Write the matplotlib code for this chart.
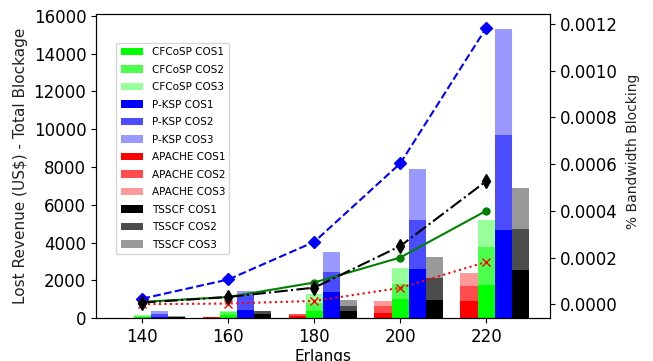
import matplotlib
matplotlib.use("Agg")
import matplotlib.pyplot as plt
import numpy as np

erlangs = np.array([140, 160, 180, 200, 220])

# lost revenue per class of service (US$)
cfcosp_cos1 = [50, 150, 390, 1020, 1745]
cfcosp_cos2 = [50, 170, 400, 790, 2010]
cfcosp_cos3 = [40, 70, 460, 830, 1460]
pksp_cos1 = [80, 440, 1390, 2590, 4670]
pksp_cos2 = [140, 790, 1060, 2610, 5020]
pksp_cos3 = [170, 180, 1070, 2690, 5640]
apache_cos1 = [0, 30, 120, 265, 916]
apache_cos2 = [0, 10, 110, 350, 790]
apache_cos3 = [0, 0, 0, 300, 700]
tsscf_cos1 = [40, 210, 350, 950, 2540]
tsscf_cos2 = [30, 180, 265, 1160, 2170]
tsscf_cos3 = [20, 0, 335, 1130, 2160]

# bandwidth blocking ratio
bb_cfcosp = [0.000010, 0.000031, 0.000093, 0.000200, 0.000400]
bb_pksp = [0.000024, 0.000106, 0.000267, 0.000603, 0.001183]
bb_apache = [0.0, 0.000003, 0.000014, 0.000070, 0.000181]
bb_tsscf = [0.000007, 0.000031, 0.000071, 0.000249, 0.000527]

w = 4

fig, ax = plt.subplots(figsize=(6.53, 3.61), dpi=100)
fig.subplots_adjust(left=0.147, right=0.842, bottom=0.119, top=0.961)

def stack(x, vals, color, name):
    bottom = np.zeros(len(x))
    for v, a, cos in zip(vals, [1.0, 0.7, 0.4], ["COS1", "COS2", "COS3"]):
        ax.bar(x, v, w, bottom=bottom, color=color, alpha=a, label=name + " " + cos)
        bottom = bottom + np.array(v)

stack(erlangs, [cfcosp_cos1, cfcosp_cos2, cfcosp_cos3], "#00ff00", "CFCoSP")
stack(erlangs + w, [pksp_cos1, pksp_cos2, pksp_cos3], "#0000ff", "P-KSP")
stack(erlangs - w, [apache_cos1, apache_cos2, apache_cos3], "#ff0000", "APACHE")
stack(erlangs + 2 * w, [tsscf_cos1, tsscf_cos2, tsscf_cos3], "#000000", "TSSCF")

ax.set_xticks(erlangs)
ax.tick_params(labelsize=12)
ax.set_xlabel("Erlangs", fontsize=11, labelpad=2)
ax.set_ylabel("Lost Revenue (US$) - Total Blockage", fontsize=11, color="#222222")
ax.legend(loc="upper left", bbox_to_anchor=(0.045, 0.905), borderaxespad=0,
          fontsize=7.5, labelspacing=0.72, handlelength=2.2)

ax2 = ax.twinx()
ax2.plot(erlangs, bb_cfcosp, "g-o", markersize=5)
ax2.plot(erlangs, bb_pksp, "b--D", markersize=6)
ax2.plot(erlangs, bb_apache, "r:x", markersize=6)
ax2.plot(erlangs, bb_tsscf, "k-.d", markersize=7)
ax2.tick_params(labelsize=12)
ax2.set_ylabel("% Bandwidth Blocking", fontsize=10, color="#222222", labelpad=6)
ax2.yaxis.label.set_y(0.55)

plt.savefig("out.png")
